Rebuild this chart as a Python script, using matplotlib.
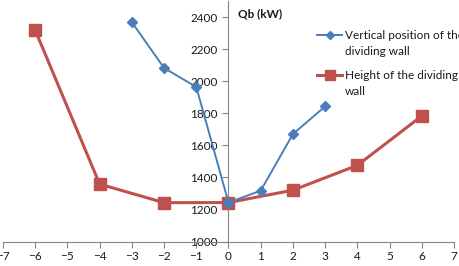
import matplotlib
matplotlib.use("Agg")
import matplotlib.pyplot as plt
from matplotlib.lines import Line2D

plt.rcParams['font.family'] = ['Lato', 'DejaVu Sans']

# vertical position of the dividing wall
pos_x = [-3, -2, -1, 0, 1, 2, 3]
pos_qb = [2368, 2082, 1964, 1243, 1317, 1670, 1843]

# height of the dividing wall
hgt_x = [-6, -4, -2, 0, 2, 4, 6]
hgt_qb = [2318, 1358, 1242, 1243, 1320, 1475, 1783]

x_ticks = list(range(-7, 8))
y_ticks = list(range(1000, 2401, 200))

labels = ['Vertical position of the\ndividing wall', 'Height of the dividing\nwall']

blue = '#4A7EBB'
red = '#C0504D'
axis_gray = '#868686'
txt = '#1a1a1a'

W, H = 460, 266
fig = plt.figure(figsize=(W / 100, H / 100), dpi=100)
ax = fig.add_axes([3 / W, 24.5 / H, 451 / W, 240.5 / H])

ax.plot(hgt_x, hgt_qb, color=red, lw=2.2, marker='s', ms=8.5, mec=red, mfc=red, zorder=3)
ax.plot(pos_x, pos_qb, color=blue, lw=1.4, marker='D', ms=5.5, mec=blue, mfc=blue, zorder=4)

ax.set_xlim(-7, 7)
ax.set_ylim(1000, 2500)
ax.set_xticks(x_ticks)
ax.set_yticks(y_ticks)

for s in ['top', 'right']:
    ax.spines[s].set_visible(False)
ax.spines['left'].set_position(('data', 0))
for s in ['left', 'bottom']:
    ax.spines[s].set_color(axis_gray)
    ax.spines[s].set_linewidth(0.8)

ax.tick_params(axis='both', colors=axis_gray, labelcolor=txt, labelsize=8.5, width=0.8)
ax.tick_params(axis='x', direction='out', length=4, pad=3)
ax.tick_params(axis='y', direction='out', length=4, pad=4)

fig.text(238 / W, 1 - 14 / H, 'Qb (kW)', fontsize=8.5, fontweight='bold',
         ha='left', va='center', color=txt)

# legend, drawn by hand so the key sits on the first text line
keys = [(blue, 1.4, 'D', 4.5, 35), (red, 2.2, 's', 7, 75)]
for (c, lw, m, ms, y), lab in zip(keys, labels):
    yf = 1 - y / H
    fig.add_artist(Line2D([317 / W, 342 / W], [yf, yf], color=c, lw=lw))
    fig.add_artist(Line2D([329.5 / W], [yf], color=c, marker=m, ms=ms, mec=c, mfc=c))
    fig.text(345 / W, 1 - (y - 5) / H, lab, fontsize=8.5, color=txt,
             ha='left', va='top', linespacing=1.55)

fig.savefig('out.png', dpi=100)
